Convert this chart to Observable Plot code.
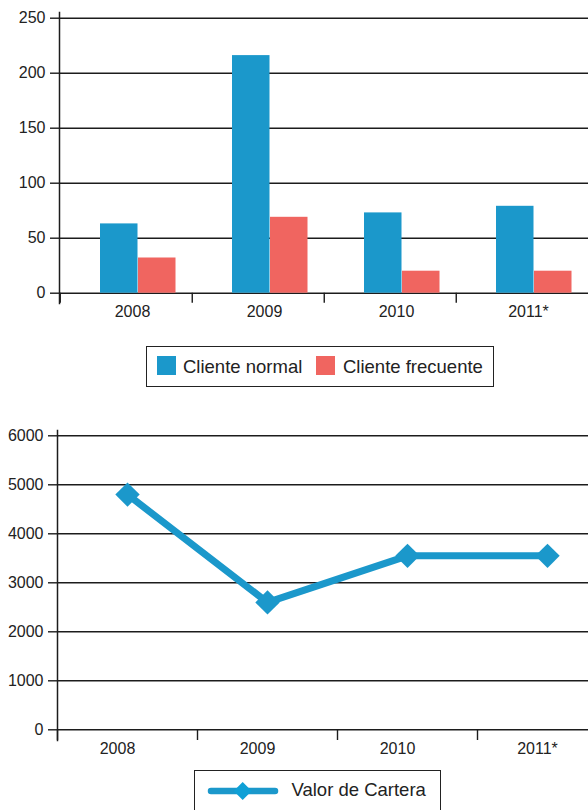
<!DOCTYPE html>
<html>
<head>
<meta charset="utf-8">
<script src="https://cdn.jsdelivr.net/npm/d3@7"></script>
<script src="https://cdn.jsdelivr.net/npm/@observablehq/plot@0.6"></script>
<style>
  html, body { margin: 0; padding: 0; background: #fff; }
  body { font-family: "Liberation Sans", Arial, Helvetica, sans-serif; color: #222; }
  #wrap { position: relative; width: 588px; height: 810px; overflow: hidden; background: #fff; }
  #top { position: absolute; left: 0; top: 0; }
  #bottom { position: absolute; left: 0; top: 420px; }
  .box { position: absolute; border: 1.5px solid #222; box-sizing: border-box; background: #fff; }
  .lbl { position: absolute; font-size: 18.5px; line-height: 18.5px; white-space: nowrap; color: #222; }
  .sw { position: absolute; width: 19px; height: 19px; }
</style>
</head>
<body>
<div id="wrap">
  <div id="top"></div>
  <div id="bottom"></div>
</div>
<script>
// ---- data ----
const years = ["2008", "2009", "2010", "2011*"];
const seriesNames = ["Cliente normal", "Cliente frecuente"];
const clienteNormal = [63, 216, 73, 79];
const clienteFrecuente = [32, 69, 20, 20];
const barTicks = [0, 50, 100, 150, 200, 250];

const lineName = "Valor de Cartera";
const valorCartera = [4800, 2600, 3550, 3550];
const lineTicks = [0, 1000, 2000, 3000, 4000, 5000, 6000];

const colors = ["#1b98cb", "#f06560"];

// ---- tables ----
const barsNormal = years.map((y, i) => ({year: y, series: seriesNames[0], value: clienteNormal[i]}));
const barsFrec = years.map((y, i) => ({year: y, series: seriesNames[1], value: clienteFrecuente[i]}));
const lineData = years.map((y, i) => ({year: y, value: valorCartera[i]}));

const font = '"Liberation Sans", Arial, Helvetica, sans-serif';
const ink = "#1c1c1c";
const plain = d => String(d);

// ---- top chart ----
const topPlot = Plot.plot({
  width: 588, height: 325,
  marginLeft: 59, marginRight: 0, marginTop: 12, marginBottom: 22,
  style: {fontFamily: font, fontSize: "16px", color: "#222", background: "white"},
  x: {type: "band", domain: years, range: [59, 589], padding: 0, label: null, axis: null},
  y: {domain: [0, 250], range: [292.7, 17.7], label: null, axis: null},
  marks: [
    Plot.gridY(barTicks, {stroke: ink, strokeOpacity: 1, strokeWidth: 1.4}),
    Plot.barY(barsNormal, {x: "year", y: "value", fill: colors[0], insetLeft: 40, insetRight: 54.5}),
    Plot.barY(barsFrec, {x: "year", y: "value", fill: colors[1], insetLeft: 78, insetRight: 16.5}),
    Plot.frame({anchor: "left", stroke: ink, strokeWidth: 1.5}),
    Plot.axisY(barTicks, {tickSize: 9, tickPadding: 5, fontSize: 16, stroke: ink, strokeWidth: 1.4, tickFormat: plain, label: null}),
    Plot.axisX(years, {tickSize: 10, tickFormat: () => "", dx: -66.25, dy: -10.3, stroke: ink, strokeWidth: 1.4, label: null}),
    Plot.axisX(years, {tickSize: 0, tickPadding: 2, fontSize: 16, dx: 6, label: null})
  ]
});
document.getElementById("top").appendChild(topPlot);

// ---- bottom chart ----
const bottomPlot = Plot.plot({
  width: 588, height: 340,
  marginLeft: 57, marginRight: 0, marginTop: 10, marginBottom: 20,
  style: {fontFamily: font, fontSize: "16px", color: "#222", background: "white"},
  x: {type: "band", domain: years, range: [57, 617], padding: 0, label: null, axis: null},
  y: {domain: [0, 6000], range: [309.3, 15.3], label: null, axis: null},
  marks: [
    Plot.gridY(lineTicks, {stroke: ink, strokeOpacity: 1, strokeWidth: 1.4}),
    Plot.line(lineData, {x: "year", y: "value", stroke: colors[0], strokeWidth: 7, strokeLinejoin: "round"}),
    Plot.dot(lineData, {x: "year", y: "value", symbol: "diamond2", r: 11, fill: colors[0], stroke: null}),
    Plot.frame({anchor: "left", stroke: ink, strokeWidth: 1.5}),
    Plot.axisY(lineTicks, {tickSize: 9, tickPadding: 5, fontSize: 16, stroke: ink, strokeWidth: 1.4, tickFormat: plain, label: null}),
    Plot.axisX(years, {tickSize: 10.7, tickFormat: () => "", dx: -70, dy: -10.7, stroke: ink, strokeWidth: 1.4, label: null}),
    Plot.axisX(years, {tickSize: 0, tickPadding: 2, fontSize: 16, dx: -10, label: null})
  ]
});
document.getElementById("bottom").appendChild(bottomPlot);

// ---- legends (HTML, below each chart) ----
const wrap = document.getElementById("wrap");
function el(tag, cls, css, text) {
  const e = document.createElement(tag);
  if (cls) e.className = cls;
  Object.assign(e.style, css);
  if (text) e.textContent = text;
  wrap.appendChild(e);
  return e;
}
// legend 1
el("div", "box", {left: "146px", top: "346px", width: "348px", height: "41px"});
el("div", "sw", {left: "157px", top: "356px", background: colors[0]});
el("div", "lbl", {left: "183px", top: "357.6px"}, seriesNames[0]);
el("div", "sw", {left: "316px", top: "356px", background: colors[1]});
el("div", "lbl", {left: "343px", top: "357.6px"}, seriesNames[1]);

// legend 2
el("div", "box", {left: "194px", top: "770px", width: "247px", height: "60px"});
const ns = "http://www.w3.org/2000/svg";
const sw = document.createElementNS(ns, "svg");
sw.setAttribute("width", "80"); sw.setAttribute("height", "24");
Object.assign(sw.style, {position: "absolute", left: "204px", top: "779px"});
const ln = document.createElementNS(ns, "line");
ln.setAttribute("x1", "7"); ln.setAttribute("x2", "71"); ln.setAttribute("y1", "12"); ln.setAttribute("y2", "12");
ln.setAttribute("stroke", colors[0]); ln.setAttribute("stroke-width", "6.5"); ln.setAttribute("stroke-linecap", "round");
sw.appendChild(ln);
const dm = document.createElementNS(ns, "path");
dm.setAttribute("d", "M38.7,3 L47.7,12 L38.7,21 L29.7,12 Z");
dm.setAttribute("fill", "#0fa0d6");
sw.appendChild(dm);
wrap.appendChild(sw);
el("div", "lbl", {left: "291.5px", top: "781px"}, lineName);
</script>
</body>
</html>
